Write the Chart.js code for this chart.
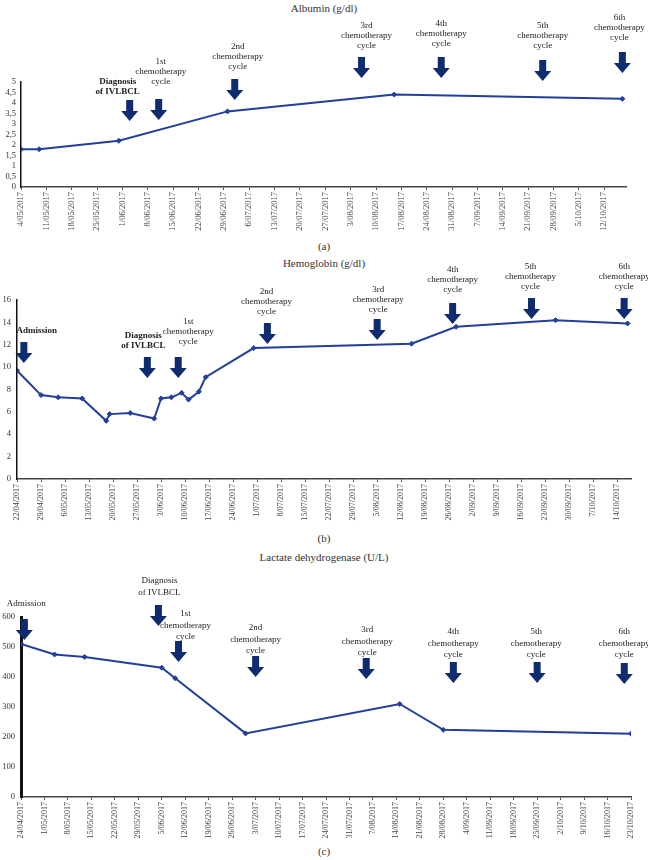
<!DOCTYPE html>
<html>
<head>
<meta charset="utf-8">
<script src="https://cdn.jsdelivr.net/npm/chart.js@4.4.1/dist/chart.umd.min.js"></script>
<style>
body{margin:0;width:648px;height:860px;position:relative;background:#fff;overflow:hidden;font-family:'Liberation Serif',serif;}
canvas{position:absolute;left:0;}
.t{position:absolute;left:0;width:648px;text-align:center;font-size:11px;font-weight:normal;color:#333;line-height:12px;}
</style>
</head>
<body>
<div class="t" style="top:2px">Albumin (g/dl)</div>
<div class="t" style="top:240px">(a)</div>
<div class="t" style="top:257px">Hemoglobin (g/dl)</div>
<div class="t" style="top:532px">(b)</div>
<div class="t" style="top:551px">Lactate dehydrogenase (U/L)</div>
<div class="t" style="top:845px">(c)</div>
<canvas id="chartA" width="648" height="240" style="top:0px"></canvas>
<canvas id="chartB" width="648" height="282" style="top:250px"></canvas>
<canvas id="chartC" width="648" height="290" style="top:570px"></canvas>
<script>
// Albumin (a)
var albStart = '4/05/2017';
var albEnd = '18/10/2017';
var albDates = ['4/05/2017','9/05/2017','31/05/2017','30/06/2017','15/08/2017','17/10/2017'];
var albValues = [1.8, 1.8, 2.2, 3.6, 4.4, 4.2];
var albYTicks = [0,0.5,1,1.5,2,2.5,3,3.5,4,4.5,5];
var albEventDates = ['3/06/2017','11/06/2017','2/07/2017','6/08/2017','28/08/2017','25/09/2017','17/10/2017'];
var albEventLabels = [['Diagnosis','of IVLBCL'],['1st','chemotherapy','cycle'],['2nd','chemotherapy','cycle'],['3rd','chemotherapy','cycle'],['4th','chemotherapy','cycle'],['5th','chemotherapy','cycle'],['6th','chemotherapy','cycle']];

// Hemoglobin (b)
var hbStart = '22/04/2017';
var hbEnd = '18/10/2017';
var hbDates = ['22/04/2017','29/04/2017','4/05/2017','11/05/2017','18/05/2017','19/05/2017','25/05/2017','1/06/2017','3/06/2017','6/06/2017','9/06/2017','11/06/2017','14/06/2017','16/06/2017','30/06/2017','15/08/2017','28/08/2017','26/09/2017','17/10/2017'];
var hbValues = [9.7, 7.5, 7.3, 7.2, 5.2, 5.8, 5.9, 5.4, 7.2, 7.3, 7.7, 7.1, 7.8, 9.1, 11.7, 12.1, 13.6, 14.2, 13.9];
var hbYTicks = [0,2,4,6,8,10,12,14,16];
var hbEventDates = ['24/04/2017','30/05/2017','8/06/2017','4/07/2017','5/08/2017','27/08/2017','19/09/2017','16/10/2017'];
var hbEventLabels = [['Admission'],['Diagnosis','of IVLBCL'],['1st','chemotherapy','cycle'],['2nd','chemotherapy','cycle'],['3rd','chemotherapy','cycle'],['4th','chemotherapy','cycle'],['5th','chemotherapy','cycle'],['6th','chemotherapy','cycle']];

// Lactate dehydrogenase (c)
var ldhStart = '24/04/2017';
var ldhEnd = '23/10/2017';
var ldhDates = ['24/04/2017','4/05/2017','13/05/2017','5/06/2017','9/06/2017','30/06/2017','15/08/2017','28/08/2017','23/10/2017'];
var ldhValues = [510, 475, 467, 431, 396, 212, 310, 224, 211];
var ldhYTicks = [0,100,200,300,400,500,600];
var ldhEventDates = ['25/04/2017','4/06/2017','10/06/2017','3/07/2017','5/08/2017','31/08/2017','25/09/2017','21/10/2017'];
var ldhEventLabels = [['Admission'],['Diagnosis','of IVLBCL'],['1st','chemotherapy','cycle'],['2nd','chemotherapy','cycle'],['3rd','chemotherapy','cycle'],['4th','chemotherapy','cycle'],['5th','chemotherapy','cycle'],['6th','chemotherapy','cycle']];

var lineColor = '#22409a';
var arrowColor = '#102c70';
var font = "'Liberation Serif', serif";

function toDay(s){
    var p = s.split('/');
    return Date.UTC(+p[2], +p[1]-1, +p[0]) / 86400000;
}
function fmtDay(start, v){
    var d = new Date((toDay(start) + v) * 86400000);
    return d.getUTCDate() + '/' + ('0' + (d.getUTCMonth()+1)).slice(-2) + '/' + d.getUTCFullYear();
}

function drawArrow(ctx, x, top){
    var h = 21, hh = 10, sw = 3.5, hw = 8.5;
    ctx.fillStyle = arrowColor;
    ctx.beginPath();
    ctx.moveTo(x-sw, top);
    ctx.lineTo(x+sw, top);
    ctx.lineTo(x+sw, top+h-hh);
    ctx.lineTo(x+hw, top+h-hh);
    ctx.lineTo(x, top+h);
    ctx.lineTo(x-hw, top+h-hh);
    ctx.lineTo(x-sw, top+h-hh);
    ctx.closePath();
    ctx.fill();
}

function makeChart(id, p){
    var d0 = toDay(p.start);
    var pts = p.dates.map(function(d, i){ return {x: toDay(d) - d0, y: p.values[i]}; });
    var maxX = toDay(p.end) - d0;
    var xt = [];
    for (var v = 0; v <= maxX; v += 7) xt.push(v);
    var el = document.getElementById(id);
    var H = el.height;
    var a = p.area;

    var arrows = {
        id: 'arrows' + id,
        afterDraw: function(chart){
            var ctx = chart.ctx;
            var xs = chart.scales.x;
            ctx.save();
            p.eventDates.forEach(function(d, i){
                var x = xs.getPixelForValue(toDay(d) - d0);
                drawArrow(ctx, x, p.arrowTop[i] - p.top);
                var lines = p.eventLabels[i];
                ctx.fillStyle = '#222';
                ctx.textAlign = 'center';
                ctx.textBaseline = 'middle';
                ctx.font = (p.bold[i] ? 'bold ' : '') + p.labelSize + 'px ' + font;
                lines.forEach(function(t, j){
                    ctx.fillText(t, x + p.labelDx[i], p.labelY[i] - p.top + j * p.lineGap);
                });
            });
            ctx.restore();
        }
    };

    return new Chart(el, {
        type: 'line',
        data: {
            datasets: [{
                data: pts,
                borderColor: lineColor,
                backgroundColor: lineColor,
                borderWidth: 2,
                pointStyle: 'rectRot',
                pointRadius: 2.5,
                pointBorderWidth: 1,
                tension: 0
            }]
        },
        options: {
            responsive: false,
            animation: false,
            layout: {padding: {top: a.top - p.top, right: 648 - a.right, left: 0, bottom: 0}},
            plugins: {legend: {display: false}, tooltip: {enabled: false}},
            scales: {
                x: {
                    type: 'linear',
                    min: 0,
                    max: maxX,
                    afterBuildTicks: function(s){ s.ticks = xt.map(function(v){ return {value: v}; }); },
                    afterFit: function(s){ s.height = H - (a.bottom - p.top); s.paddingLeft = 0; s.paddingRight = 0; },
                    grid: {display: true, drawOnChartArea: false, drawTicks: true, tickLength: 3, color: '#555'},
                    border: {display: true, color: '#444', width: 1.5},
                    ticks: {
                        autoSkip: false, minRotation: 90, maxRotation: 90, padding: 2,
                        color: '#444', font: {family: font, size: p.xFont},
                        callback: function(v){ return fmtDay(p.start, v); }
                    }
                },
                y: {
                    min: 0,
                    max: p.yTicks[p.yTicks.length-1],
                    afterBuildTicks: function(s){ s.ticks = p.yTicks.map(function(v){ return {value: v}; }); },
                    afterFit: function(s){ s.width = a.left; s.paddingTop = 0; s.paddingBottom = 0; },
                    grid: {display: false, drawTicks: false},
                    border: {display: true, color: '#111', width: p.yAxisWidth},
                    ticks: {
                        autoSkip: false, padding: p.yPad, color: '#333', font: {family: font, size: 8.5},
                        callback: function(v){ return String(v).replace('.', ','); }
                    }
                }
            }
        },
        plugins: [arrows]
    });
}

makeChart('chartA', {
    start: albStart, end: albEnd, dates: albDates, values: albValues, yTicks: albYTicks,
    eventDates: albEventDates, eventLabels: albEventLabels,
    top: 0, area: {left: 21, top: 82, right: 626, bottom: 187},
    arrowTop: [100, 99, 79, 57, 57, 60, 52],
    labelY: [82, 62, 47, 26, 24, 26, 18],
    labelDx: [-12, 2, 3, 5, 0, 0, -3],
    bold: [true, false, false, false, false, false, false],
    lineGap: 10, labelSize: 9, xFont: 8.5, yAxisWidth: 1.5, yPad: 5
});

makeChart('chartB', {
    start: hbStart, end: hbEnd, dates: hbDates, values: hbValues, yTicks: hbYTicks,
    eventDates: hbEventDates, eventLabels: hbEventLabels,
    top: 250, area: {left: 17, top: 300, right: 631, bottom: 479},
    arrowTop: [342, 357, 357, 323, 319, 303, 298, 298],
    labelY: [331, 336, 322, 292, 290, 270, 267, 267],
    labelDx: [13, -4, 10, -1, 1, 0, -1, 0],
    bold: [true, true, false, false, false, false, false, false],
    lineGap: 10, labelSize: 9, xFont: 8, yAxisWidth: 1.5, yPad: 6
});

makeChart('chartC', {
    start: ldhStart, end: ldhEnd, dates: ldhDates, values: ldhValues, yTicks: ldhYTicks,
    eventDates: ldhEventDates, eventLabels: ldhEventLabels,
    top: 570, area: {left: 21, top: 617, right: 631, bottom: 797},
    arrowTop: [619, 605, 641, 656, 658, 662, 662, 663],
    labelY: [604, 581, 614, 628, 630, 632, 632, 632],
    labelDx: [2, 1, 7, 0, 1, 0, -1, 0],
    bold: [false, false, false, false, false, false, false, false],
    lineGap: 11.5, labelSize: 9, xFont: 8, yAxisWidth: 3, yPad: 6
});
</script>
</body>
</html>
